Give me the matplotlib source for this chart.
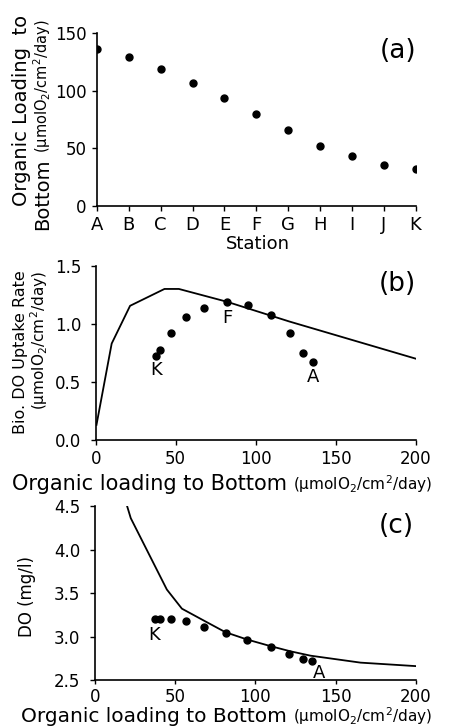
import matplotlib.pyplot as plt

plt.rcParams['font.family'] = ['DejaVu Sans']

# (a) organic loading at each station
stations = ['A', 'B', 'C', 'D', 'E', 'F', 'G', 'H', 'I', 'J', 'K']
loading_a = [136, 129, 119, 106.5, 93.5, 79.5, 65.5, 52, 43.5, 36, 32]

# observed points for (b) and (c), K ... A
obs_load = [37.5, 40.4, 47.3, 56.7, 68, 82, 95, 109.7, 121.3, 129.6, 135.6]
obs_uptake = [0.724, 0.778, 0.922, 1.06, 1.138, 1.19, 1.159, 1.077, 0.922, 0.75, 0.673]
obs_do = [3.20, 3.20, 3.20, 3.18, 3.115, 3.045, 2.962, 2.875, 2.80, 2.745, 2.715]

# model curves
model_b_x = [0.5, 10, 21.5, 43, 52, 82, 121, 200]
model_b_y = [0.13, 0.83, 1.155, 1.30, 1.30, 1.19, 1.02, 0.70]
model_c_x = [20, 22.3, 44.8, 54.2, 67.7, 81.3, 94.8, 109.4, 121.9, 134.4, 165.6, 200]
model_c_y = [4.5, 4.36, 3.54, 3.32, 3.185, 3.05, 2.966, 2.89, 2.83, 2.78, 2.70, 2.66]

W, H = 449, 727


def px(x, y):
    # pixel position -> figure fraction
    return x / W, 1 - y / H


def style(ax, pad):
    for s in ['top', 'right']:
        ax.spines[s].set_visible(False)
    for s in ['left', 'bottom']:
        ax.spines[s].set_linewidth(1.2)
    ax.tick_params(direction='out', length=3.5, width=1, labelsize=12)
    ax.tick_params(axis='y', pad=pad)
    ax.set_facecolor('none')


fig = plt.figure(figsize=(W / 100, H / 100), dpi=100)

# ---- (a)
ax1 = fig.add_axes([0.2160, 0.7166, 0.7094, 0.2380])
style(ax1, 4)
ax1.plot(range(len(stations)), loading_a, 'o', color='black', ms=5)
ax1.set_xlim(0, 10)
ax1.set_ylim(0, 150)
ax1.set_yticks([0, 50, 100, 150])
ax1.set_xticks(range(len(stations)))
ax1.set_xticklabels(stations, fontsize=13)
ax1.tick_params(axis='x', pad=4)
ax1.text(0.946, 0.897, '(a)', transform=ax1.transAxes, fontsize=19, ha='center', va='center')

fig.text(*px(27.5, 110), 'Organic Loading  to', rotation=90, rotation_mode='anchor',
         ha='center', va='baseline', fontsize=14)
fig.text(*px(48, 159), 'Bottom', rotation=90, rotation_mode='anchor',
         ha='right', va='baseline', fontsize=14)
fig.text(*px(48, 153), '(µmolO$_2$/cm$^2$/day)', rotation=90, rotation_mode='anchor',
         ha='left', va='baseline', fontsize=10.5)
fig.text(*px(258, 249), 'Station', ha='center', va='baseline', fontsize=13)

# ---- (b)
ax2 = fig.add_axes([0.2131, 0.3948, 0.7127, 0.2397])
style(ax2, 7)
ax2.plot(model_b_x, model_b_y, color='black', lw=1.3)
ax2.plot(obs_load, obs_uptake, 'o', color='black', ms=5)
ax2.set_xlim(0, 200)
ax2.set_ylim(0, 1.5)
ax2.set_xticks([0, 50, 100, 150, 200])
ax2.set_yticks([0.0, 0.5, 1.0, 1.5])
ax2.set_yticklabels(['0.0', '0.5', '1.0', '1.5'])
ax2.tick_params(axis='x', pad=4)
ax2.text(37.9, 0.60, 'K', fontsize=13, ha='center', va='center')
ax2.text(82.5, 1.05, 'F', fontsize=13, ha='center', va='center')
ax2.text(135.7, 0.543, 'A', fontsize=13, ha='center', va='center')
ax2.text(0.943, 0.895, '(b)', transform=ax2.transAxes, fontsize=19, ha='center', va='center')

fig.text(*px(25.5, 352), 'Bio. DO Uptake Rate', rotation=90, rotation_mode='anchor',
         ha='center', va='baseline', fontsize=11.5)
fig.text(*px(45, 340.5), '(µmolO$_2$/cm$^2$/day)', rotation=90, rotation_mode='anchor',
         ha='center', va='baseline', fontsize=11)
fig.text(*px(287, 490), 'Organic loading to Bottom', ha='right', va='baseline', fontsize=15)
fig.text(*px(293, 490), '(µmolO$_2$/cm$^2$/day)', ha='left', va='baseline', fontsize=11)

# ---- (c)
ax3 = fig.add_axes([0.2116, 0.0646, 0.7142, 0.2394])
style(ax3, 7)
ax3.plot(model_c_x, model_c_y, color='black', lw=1.3)
ax3.plot(obs_load, obs_do, 'o', color='black', ms=5)
ax3.set_xlim(0, 200)
ax3.set_ylim(2.5, 4.5)
ax3.set_xticks([0, 50, 100, 150, 200])
ax3.set_yticks([2.5, 3.0, 3.5, 4.0, 4.5])
ax3.tick_params(axis='x', pad=2.5, length=3)
ax3.text(36.7, 3.023, 'K', fontsize=13, ha='center', va='center')
ax3.text(139.6, 2.577, 'A', fontsize=13, ha='center', va='center')
ax3.text(0.94, 0.886, '(c)', transform=ax3.transAxes, fontsize=19, ha='center', va='center')

fig.text(*px(32.3, 596.7), 'DO (mg/l)', rotation=90, rotation_mode='anchor',
         ha='center', va='baseline', fontsize=12)
fig.text(*px(287, 722), 'Organic loading to Bottom', ha='right', va='baseline', fontsize=14.5)
fig.text(*px(293, 722), '(µmolO$_2$/cm$^2$/day)', ha='left', va='baseline', fontsize=11)

fig.savefig('out.png', dpi=100, facecolor='white')
